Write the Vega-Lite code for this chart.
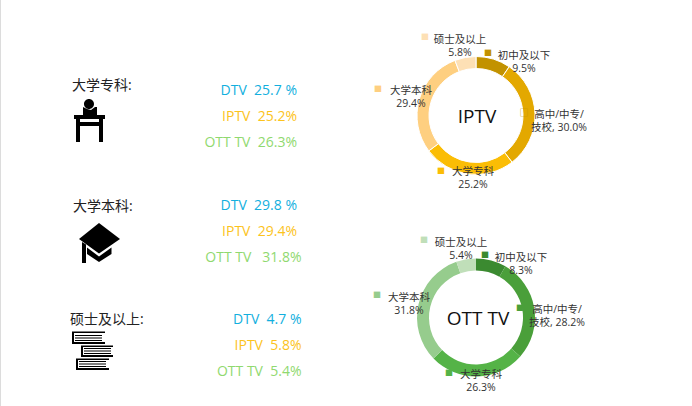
{
"$schema":"https://vega.github.io/schema/vega-lite/v6.json",
"padding":0,"spacing":0,"background":"white",
"resolve":{"scale":{"color":"independent"}},
"config":{"view":{"stroke":null},"concat":{"spacing":0},"text":{"font":"Open Sans, Noto Sans CJK SC"}},
"datasets":{
"shares":[
{"group":"大学专科","series":"DTV","share":25.7,"label":"DTV\u00a0\u00a025.7 %"},
{"group":"大学专科","series":"IPTV","share":25.2,"label":"IPTV\u00a0\u00a025.2%"},
{"group":"大学专科","series":"OTT TV","share":26.3,"label":"OTT TV\u00a0\u00a026.3%"},
{"group":"大学本科","series":"DTV","share":29.8,"label":"DTV\u00a0\u00a029.8 %"},
{"group":"大学本科","series":"IPTV","share":29.4,"label":"IPTV\u00a0\u00a029.4%"},
{"group":"大学本科","series":"OTT TV","share":31.8,"label":"OTT TV\u00a0\u00a0\u00a031.8%"},
{"group":"硕士及以上","series":"DTV","share":4.7,"label":"DTV\u00a0\u00a04.7 %"},
{"group":"硕士及以上","series":"IPTV","share":5.8,"label":"IPTV\u00a0\u00a05.8%"},
{"group":"硕士及以上","series":"OTT TV","share":5.4,"label":"OTT TV\u00a0\u00a05.4%"}],
"groups":[{"group":"大学专科","title":"大学专科:"},{"group":"大学本科","title":"大学本科:"},{"group":"硕士及以上","title":"硕士及以上:"}],
"iptv":[
{"category":"初中及以下","rank":1,"share":9.5,"label":"初中及以下\n9.5%"},
{"category":"高中/中专/技校","rank":2,"share":30.0,"label":"高中/中专/\n技校, 30.0%"},
{"category":"大学专科","rank":3,"share":25.2,"label":"大学专科\n25.2%"},
{"category":"大学本科","rank":4,"share":29.4,"label":"大学本科\n29.4%"},
{"category":"硕士及以上","rank":5,"share":5.8,"label":"硕士及以上\n5.8%"}],
"ott":[
{"category":"初中及以下","rank":1,"share":8.3,"label":"初中及以下\n8.3%"},
{"category":"高中/中专/技校","rank":2,"share":28.2,"label":"高中/中专/\n技校, 28.2%"},
{"category":"大学专科","rank":3,"share":26.3,"label":"大学专科\n26.3%"},
{"category":"大学本科","rank":4,"share":31.8,"label":"大学本科\n31.8%"},
{"category":"硕士及以上","rank":5,"share":5.4,"label":"硕士及以上\n5.4%"}]
},
"hconcat":[
{"width":1,"height":406,"data":{"values":[{}]},"mark":{"type":"rect","color":"#dcdcdc"},"encoding":{}},
{"width":339,"height":406,
"encoding":{
"x":{"datum":"title","type":"nominal","axis":null,"scale":{"type":"point","domain":["title","value"],"range":[71,296],"padding":0}},
"y":{"field":"group","type":"nominal","axis":null,"scale":{"type":"point","domain":["大学专科","大学本科","硕士及以上"],"range":[89,318],"padding":0}}},
"layer":[
{"data":{"name":"shares"},"transform":[{"filter":"datum.group!=='硕士及以上' && datum.share!==31.8"}],
"mark":{"type":"text","align":"right","baseline":"middle","fontSize":14},
"encoding":{"x":{"datum":"value","type":"nominal"},
"yOffset":{"field":"series","type":"nominal","scale":{"type":"point","domain":["DTV","IPTV","OTT TV"],"range":[2,54],"padding":0}},
"text":{"field":"label"},
"color":{"field":"series","type":"nominal","legend":null,"scale":{"domain":["DTV","IPTV","OTT TV"],"range":["#12afde","#fcc31c","#90d96f"]}}}},
{"data":{"name":"shares"},"transform":[{"filter":"datum.group==='硕士及以上' || datum.share===31.8"}],
"mark":{"type":"text","align":"right","baseline":"middle","fontSize":14,"dx":4.5},
"encoding":{"x":{"datum":"value","type":"nominal"},
"yOffset":{"field":"series","type":"nominal","scale":{"type":"point","domain":["DTV","IPTV","OTT TV"],"range":[2,54],"padding":0}},
"text":{"field":"label"},
"color":{"field":"series","type":"nominal","legend":null,"scale":{"domain":["DTV","IPTV","OTT TV"],"range":["#12afde","#fcc31c","#90d96f"]}}}},
{"data":{"name":"groups"},"transform":[{"filter":"datum.group==='大学专科'"}],
"mark":{"type":"text","align":"left","baseline":"middle","fontSize":14,"color":"#222","dy":-3},"encoding":{"text":{"field":"title"}}},
{"data":{"name":"groups"},"transform":[{"filter":"datum.group==='大学本科'"}],
"mark":{"type":"text","align":"left","baseline":"middle","fontSize":14,"color":"#222","dy":3,"dx":1},"encoding":{"text":{"field":"title"}}},
{"data":{"name":"groups"},"transform":[{"filter":"datum.group==='硕士及以上'"}],
"mark":{"type":"text","align":"left","baseline":"middle","fontSize":14,"color":"#222","dy":2,"dx":-2},"encoding":{"text":{"field":"title"}}},
{"data":{"name":"groups"},
"mark":{"type":"point","filled":true,"size":4,"opacity":1,"color":"#000","strokeWidth":0},
"encoding":{"shape":{"field":"group","type":"nominal","legend":null,"scale":{"domain":["大学专科","大学本科","硕士及以上"],"range":[
"M12 15A5 5 0 1 1 22 15A5 5 0 1 1 12 15ZM11 18L15 20L19 21L23 18L25 18L25 26L11 26ZM2 26L33 26L33 30L2 30ZM4 30L8 30L8 33L27 33L27 30L31 30L31 53L27 53L27 37L8 37L8 53L4 53Z",
"M27 19.5L48 35.5L27 50L7 35.5ZM10 38.5L14 41L14 59.5L10 59.5ZM15 44L27 53L39.5 44L39.5 50.5L27 58.5L15 50.5Z",
"M0 13.5H33V15H2V24H33V26H0ZM3 17H30V18H3ZM3 19.5H30V20.5H3ZM3 22H30V23H3ZM9 27.5H41V29H11V37H41V39H9ZM12 30H39V31H12ZM12 32.5H39V33.5H12ZM12 35H39V36H12ZM4 40.5H37V42H6V50H37V52H4ZM7 43H34V44H7ZM7 45.5H34V46.5H7ZM7 48H34V49H7Z"
]}}}}
]},
{"resolve":{"scale":{"color":"independent"}},"vconcat":[
{"width":272,"height":231,"data":{"name":"iptv"},
"layer":[
{"mark":{"type":"arc","innerRadius":47,"outerRadius":59,"stroke":"white","strokeWidth":1},
"encoding":{"theta":{"field":"share","type":"quantitative","stack":true},"order":{"field":"rank"},
"color":{"field":"category","type":"nominal","legend":null,"scale":{"domain":["初中及以下","高中/中专/技校","大学专科","大学本科","硕士及以上"],"range":["#c29200","#e3a800","#fbbd05","#fecf80","#fde0b5"]}}}},
{"data":{"values":[{"name":"IPTV"}]},"mark":{"type":"text","fontSize":19,"color":"#111","baseline":"middle","dy":1,"dx":1},"encoding":{"text":{"field":"name"}}},
{"transform":[{"filter":"datum.rank===1"}],"mark":{"type":"text","text":"■","fontSize":8,"baseline":"middle","color":"#c29200","dx":12,"dy":-62},"encoding":{}},
{"transform":[{"filter":"datum.rank===2"}],"mark":{"type":"text","text":"□","fontSize":9,"baseline":"middle","color":"#c29200","dx":48,"dy":-3},"encoding":{}},
{"transform":[{"filter":"datum.rank===3"}],"mark":{"type":"text","text":"■","fontSize":8,"baseline":"middle","color":"#fbbd05","dx":-35,"dy":56},"encoding":{}},
{"transform":[{"filter":"datum.rank===4"}],"mark":{"type":"text","text":"■","fontSize":8,"baseline":"middle","color":"#fecf80","dx":-98,"dy":-26},"encoding":{}},
{"transform":[{"filter":"datum.rank===5"}],"mark":{"type":"text","text":"■","fontSize":8,"baseline":"middle","color":"#fde0b5","dx":-51,"dy":-78},"encoding":{}},
{"transform":[{"filter":"datum.rank===1"}],"mark":{"type":"text","fontSize":10.5,"color":"#333","lineBreak":"\n","lineHeight":13,"baseline":"middle","dx":48,"dy":-60},"encoding":{"text":{"field":"label"}}},
{"transform":[{"filter":"datum.rank===2"}],"mark":{"type":"text","fontSize":10.5,"color":"#333","lineBreak":"\n","lineHeight":13,"baseline":"middle","dx":83,"dy":-1},"encoding":{"text":{"field":"label"}}},
{"transform":[{"filter":"datum.rank===3"}],"mark":{"type":"text","fontSize":10.5,"color":"#333","lineBreak":"\n","lineHeight":13,"baseline":"middle","dx":-3,"dy":56},"encoding":{"text":{"field":"label"}}},
{"transform":[{"filter":"datum.rank===4"}],"mark":{"type":"text","fontSize":10.5,"color":"#333","lineBreak":"\n","lineHeight":13,"baseline":"middle","dx":-65,"dy":-25},"encoding":{"text":{"field":"label"}}},
{"transform":[{"filter":"datum.rank===5"}],"mark":{"type":"text","fontSize":10.5,"color":"#333","lineBreak":"\n","lineHeight":13,"baseline":"middle","dx":-16,"dy":-76},"encoding":{"text":{"field":"label"}}}
]},
{"width":272,"height":173,"data":{"name":"ott"},
"layer":[
{"mark":{"type":"arc","innerRadius":47,"outerRadius":59},
"encoding":{"theta":{"field":"share","type":"quantitative","stack":true},"order":{"field":"rank"},
"color":{"field":"category","type":"nominal","legend":null,"scale":{"domain":["初中及以下","高中/中专/技校","大学专科","大学本科","硕士及以上"],"range":["#3b8a30","#4a9f3a","#55b347","#96cc8d","#c0dfb9"]}}}},
{"data":{"values":[{"name":"OTT TV"}]},"mark":{"type":"text","fontSize":19,"color":"#111","baseline":"middle","dy":1,"dx":2},"encoding":{"text":{"field":"name"}}},
{"transform":[{"filter":"datum.rank===1"}],"mark":{"type":"text","text":"■","fontSize":8,"baseline":"middle","color":"#3b8a30","dx":9,"dy":-62},"encoding":{}},
{"transform":[{"filter":"datum.rank===2"}],"mark":{"type":"text","text":"■","fontSize":8,"baseline":"middle","color":"#4a9f3a","dx":44,"dy":-9},"encoding":{}},
{"transform":[{"filter":"datum.rank===3"}],"mark":{"type":"text","text":"■","fontSize":8,"baseline":"middle","color":"#55b347","dx":-27,"dy":56},"encoding":{}},
{"transform":[{"filter":"datum.rank===4"}],"mark":{"type":"text","text":"■","fontSize":8,"baseline":"middle","color":"#96cc8d","dx":-99,"dy":-22},"encoding":{}},
{"transform":[{"filter":"datum.rank===5"}],"mark":{"type":"text","text":"■","fontSize":8,"baseline":"middle","color":"#c0dfb9","dx":-52,"dy":-77},"encoding":{}},
{"transform":[{"filter":"datum.rank===1"}],"mark":{"type":"text","fontSize":10.5,"color":"#333","lineBreak":"\n","lineHeight":13,"baseline":"middle","dx":45,"dy":-60},"encoding":{"text":{"field":"label"}}},
{"transform":[{"filter":"datum.rank===2"}],"mark":{"type":"text","fontSize":10.5,"color":"#333","lineBreak":"\n","lineHeight":13,"baseline":"middle","dx":81,"dy":-8},"encoding":{"text":{"field":"label"}}},
{"transform":[{"filter":"datum.rank===3"}],"mark":{"type":"text","fontSize":10.5,"color":"#333","lineBreak":"\n","lineHeight":13,"baseline":"middle","dx":5,"dy":57},"encoding":{"text":{"field":"label"}}},
{"transform":[{"filter":"datum.rank===4"}],"mark":{"type":"text","fontSize":10.5,"color":"#333","lineBreak":"\n","lineHeight":13,"baseline":"middle","dx":-67,"dy":-20},"encoding":{"text":{"field":"label"}}},
{"transform":[{"filter":"datum.rank===5"}],"mark":{"type":"text","fontSize":10.5,"color":"#333","lineBreak":"\n","lineHeight":13,"baseline":"middle","dx":-15,"dy":-75},"encoding":{"text":{"field":"label"}}}
]}
]}
]
}
